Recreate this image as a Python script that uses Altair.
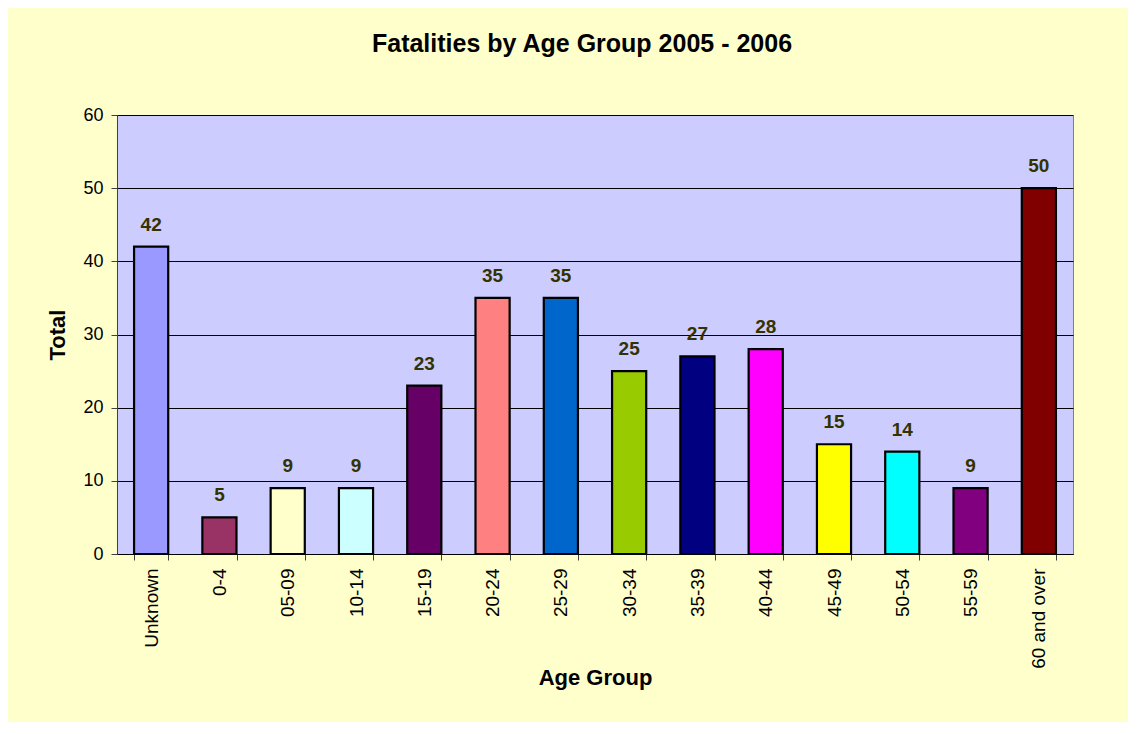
import altair as alt
import pandas as pd

groups = ["Unknown", "0-4", "05-09", "10-14", "15-19", "20-24", "25-29",
          "30-34", "35-39", "40-44", "45-49", "50-54", "55-59", "60 and over"]
totals = [42, 5, 9, 9, 23, 35, 35, 25, 27, 28, 15, 14, 9, 50]
colors = ["#9999FF", "#993366", "#FFFFCC", "#CCFFFF", "#660066", "#FF8080",
          "#0066CC", "#99CC00", "#000080", "#FF00FF", "#FFFF00", "#00FFFF",
          "#800080", "#800000"]
y_ticks = [0, 10, 20, 30, 40, 50, 60]

df = pd.DataFrame({"group": groups, "total": totals})

FONT = "Liberation Sans"

x_enc = alt.X(
    "group:N",
    sort=groups,
    scale=alt.Scale(paddingInner=0.5, paddingOuter=0.25),
    axis=alt.Axis(
        title="Age Group",
        labelAngle=270,
        labelAlign="right",
        labelBaseline="middle",
        labelFont=FONT,
        labelFontSize=19,
        labelColor="black",
        labelPadding=8,
        tickBand="extent",
        tickSize=6,
        tickColor="#404040",
        domainColor="#000000",
        domainWidth=1,
        grid=False,
        titleFont=FONT,
        titleFontSize=22,
        titleFontWeight="bold",
        titleColor="black",
        titleX=478,
        titleY=123,
        titleBaseline="middle",
        titleAlign="center",
    ),
)

y_enc = alt.Y(
    "total:Q",
    scale=alt.Scale(domain=[0, 60], nice=False),
    axis=alt.Axis(
        title="Total",
        values=y_ticks,
        labelFont=FONT,
        labelFontSize=18,
        labelColor="black",
        labelPadding=8,
        tickSize=6,
        tickColor="#404040",
        domainColor="#404040",
        grid=True,
        gridColor="#000000",
        gridWidth=1,
        titleFont=FONT,
        titleFontSize=22,
        titleFontWeight="bold",
        titleColor="black",
        titleX=-60,
        titleY=219.5,
        titleBaseline="middle",
        titleAlign="center",
    ),
)

bars = alt.Chart(df).mark_bar(stroke="black", strokeWidth=2.2).encode(
    x=x_enc,
    y=y_enc,
    color=alt.Color("group:N", scale=alt.Scale(domain=groups, range=colors), legend=None),
)

labels = alt.Chart(df).mark_text(
    dy=-16, baseline="alphabetic", align="center",
    font=FONT, fontSize=19, fontWeight="bold", color="#333300",
).encode(
    x=alt.X("group:N", sort=groups),
    y=alt.Y("total:Q"),
    text=alt.Text("total:Q"),
)

chart = alt.layer(bars, labels).properties(
    width=956,
    height=439,
    title=alt.TitleParams(
        "Fatalities by Age Group 2005 - 2006",
        font=FONT,
        fontSize=25,
        fontWeight="bold",
        color="black",
        anchor="middle",
        frame="group",
        dx=-13,
        offset=49,
    ),
    autosize=alt.AutoSizeParams(type="none"),
    padding={"left": 109, "top": 107, "right": 55, "bottom": 168},
    background="#FFFFCC",
).configure_view(
    fill="#CCCCFF",
    stroke="#808080",
    strokeWidth=1,
)

chart.save("out.html", embed_options={"renderer": "svg", "actions": False})
